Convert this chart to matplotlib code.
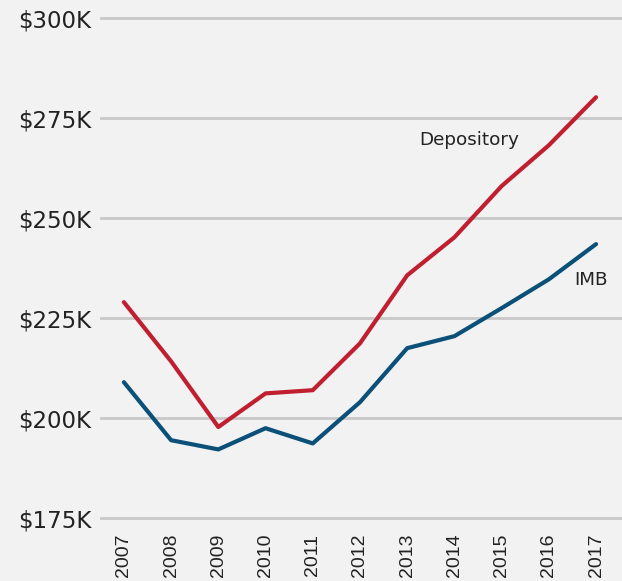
import matplotlib.pyplot as plt
import numpy as np

# Data (thousands of dollars)
years = [2007, 2008, 2009, 2010, 2011, 2012, 2013, 2014, 2015, 2016, 2017]
depository = [229.0, 214.2, 197.8, 206.2, 207.0, 218.7, 235.7, 245.2, 258.0, 268.2, 280.2]
imb = [209.0, 194.5, 192.2, 197.5, 193.7, 204.0, 217.5, 220.5, 227.5, 234.7, 243.5]
y_ticks = [175, 200, 225, 250, 275, 300]

bg = "#f2f2f2"
red = "#c01f30"
blue = "#0b5078"

fig = plt.figure(figsize=(6.22, 5.81), dpi=100, facecolor=bg)
ax = fig.add_axes([0.162, 0.108, 0.838, 0.861], facecolor=bg)

ax.plot(years, depository, color=red, lw=3.0, solid_capstyle="round")
ax.plot(years, imb, color=blue, lw=3.0, solid_capstyle="round")

ax.set_xlim(2006.51, 2017.55)
ax.set_ylim(175, 300)
ax.set_yticks(y_ticks)
ax.set_yticklabels(["$%dK" % v for v in y_ticks], family="DejaVu Sans", fontsize=16.5, color="#222222")
ax.set_xticks(years)
ax.set_xticklabels([str(y) for y in years], rotation=90, family="Liberation Sans",
                   fontsize=14, color="#222222")
ax.tick_params(axis="both", length=0)
ax.tick_params(axis="y", pad=7)
ax.tick_params(axis="x", pad=11)

ax.grid(axis="y", color="#c8c8c8", lw=2)
for gl in ax.get_ygridlines():
    gl.set_clip_on(False)
ax.set_axisbelow(True)
for s in ax.spines.values():
    s.set_visible(False)

ax.text(2013.25, 269.5, "Depository", family="DejaVu Sans", fontsize=13.2, color="#222222",
        va="center", ha="left")
ax.text(2016.53, 234.5, "IMB", family="DejaVu Sans", fontsize=13.2, color="#222222",
        va="center", ha="left")

fig.savefig("out.png", dpi=100, facecolor=bg)
